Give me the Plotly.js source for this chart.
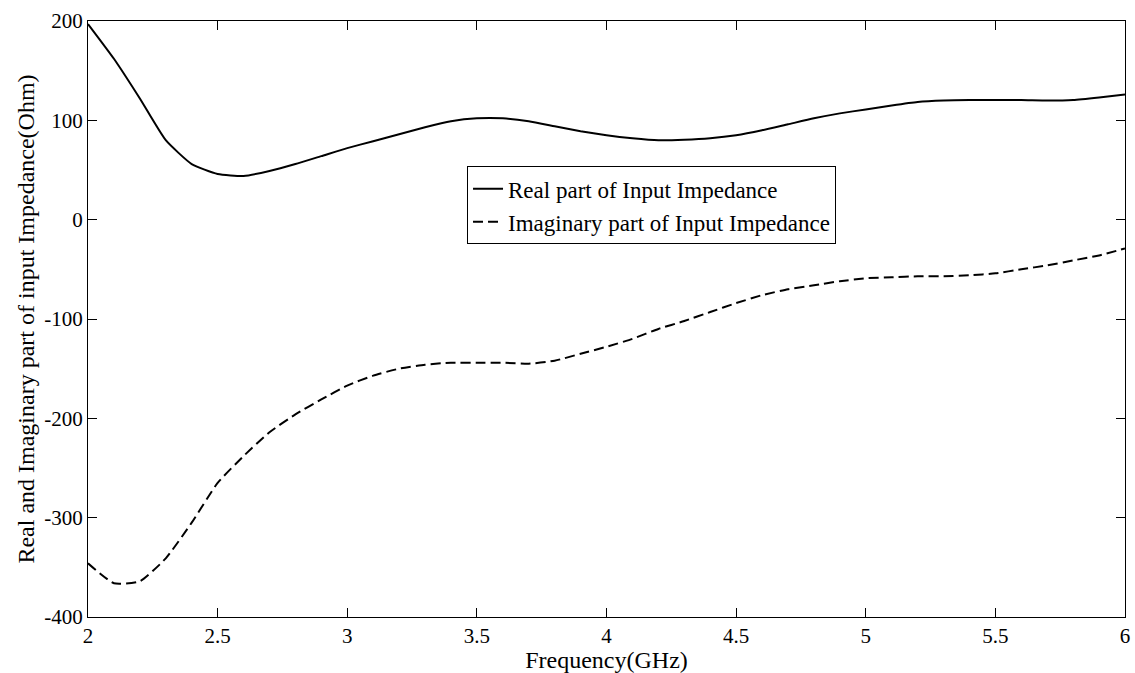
<!DOCTYPE html>
<html>
<head>
<meta charset="utf-8">
<script src="https://cdn.plot.ly/plotly-3.0.1.min.js"></script>
<style>html,body{margin:0;padding:0;background:#fff;}#chart{width:1135px;height:673px;}</style>
</head>
<body>
<div id="chart"></div>
<script>
const freq = [2.0,2.1,2.2,2.3,2.4,2.5,2.6,2.7,2.8,2.9,3.0,3.1,3.2,3.3,3.4,3.5,3.6,3.7,3.8,3.9,4.0,4.1,4.2,4.3,4.4,4.5,4.6,4.7,4.8,4.9,5.0,5.1,5.2,5.3,5.4,5.5,5.6,5.7,5.8,5.9,6.0];
const realPart = [197,162,122,80,56,46,44,49,56,64,72,79,86,93,99,102,102,99,94,89,85,82,80,80.5,82,85,90,96,102,107,111,115,118.5,120,120.5,120.5,120.5,120,120.5,123,126];
const imagPart = [-346,-366,-364,-341,-305,-265,-238,-214,-196,-181,-167,-157,-150,-146,-144,-144,-144,-145,-142,-135,-128,-120,-110,-102,-93,-84,-76,-70,-66,-62,-59,-58,-57,-57,-56,-54,-50,-46,-41,-36,-29];
const xTicks = [2,2.5,3,3.5,4,4.5,5,5.5,6];
const xTickText = ['2','2.5','3','3.5','4','4.5','5','5.5','6'];
const yTicks = [-400,-300,-200,-100,0,100,200];
const yTickText = ['-400','-300','-200','-100','0','100','200'];
const seriesNames = ['Real part of Input Impedance','Imaginary part of Input Impedance'];

const fam = '"Liberation Serif", "Times New Roman", serif';
const tickFont = {family: fam, size: 21, color: '#000'};
const legendFont = {family: fam, size: 23, color: '#000'};
const titleFont = {family: fam, size: 24, color: '#000'};

const traces = [
  {x: freq, y: realPart, name: seriesNames[0], mode: 'lines', line: {color: '#000', width: 2, shape: 'spline', smoothing: 0.5}},
  {x: freq, y: imagPart, name: seriesNames[1], mode: 'lines', line: {color: '#000', width: 2, dash: '10px,5px', shape: 'spline', smoothing: 0.5}}
];

const layout = {
  width: 1135, height: 673,
  margin: {l: 88, r: 10, t: 21, b: 56},
  paper_bgcolor: '#fff', plot_bgcolor: '#fff',
  font: legendFont,
  showlegend: true,
  legend: {x: 0.3655, y: 0.756, xanchor: 'left', yanchor: 'top', bgcolor: '#fff', bordercolor: '#000', borderwidth: 1, font: legendFont, tracegroupgap: 0},
  xaxis: {
    range: [2, 6], tickvals: xTicks, ticktext: xTickText,
    ticks: 'inside', ticklen: 9, tickcolor: '#000', tickwidth: 1,
    showline: true, linecolor: '#000', linewidth: 1, mirror: 'ticks',
    showgrid: false, zeroline: false, tickfont: tickFont,
    title: {text: 'Frequency(GHz)', font: titleFont, standoff: 3}
  },
  yaxis: {
    range: [-400, 200], tickvals: yTicks, ticktext: yTickText,
    ticks: 'inside', ticklen: 9, tickcolor: '#000', tickwidth: 1,
    showline: true, linecolor: '#000', linewidth: 1, mirror: 'ticks',
    showgrid: false, zeroline: false, tickfont: tickFont,
    title: {text: 'Real and Imaginary part of input Impedance(Ohm)', font: titleFont, standoff: 2}
  }
};

Plotly.newPlot('chart', traces, layout, {displayModeBar: false, staticPlot: true});
</script>
</body>
</html>
